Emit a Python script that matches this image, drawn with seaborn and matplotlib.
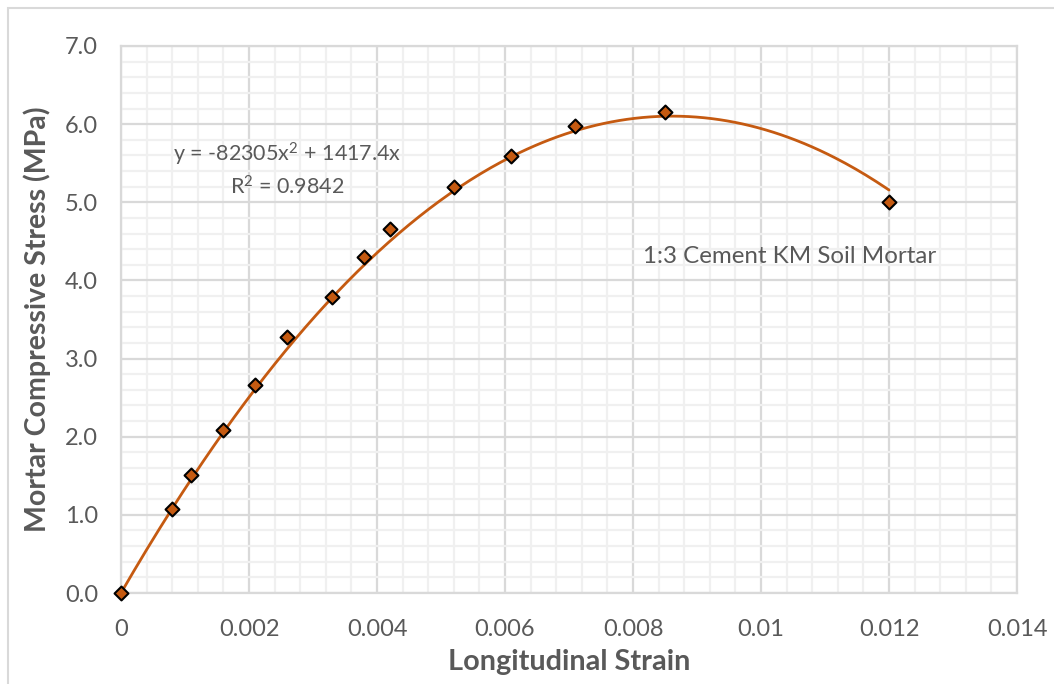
import numpy as np
import pandas as pd
import matplotlib
matplotlib.use("Agg")
import matplotlib.pyplot as plt
from matplotlib.ticker import MultipleLocator
from matplotlib.patches import Rectangle
import seaborn as sns

# ---- data ----
strain = [0.0, 0.0008, 0.0011, 0.0016, 0.0021, 0.0026, 0.0033, 0.0038, 0.0042,
          0.0052, 0.0061, 0.0071, 0.0085, 0.0120]
stress = [0.0, 1.07, 1.51, 2.08, 2.66, 3.27, 3.79, 4.30, 4.66,
          5.19, 5.59, 5.97, 6.16, 5.00]
trend_a = -82305.0   # x^2 coefficient of the displayed trendline
trend_b = 1417.4     # x coefficient
r_squared = 0.9842
x_ticks = [0, 0.002, 0.004, 0.006, 0.008, 0.01, 0.012, 0.014]
x_tick_labels = ["0", "0.002", "0.004", "0.006", "0.008", "0.01", "0.012", "0.014"]
y_ticks = [0.0, 1.0, 2.0, 3.0, 4.0, 5.0, 6.0, 7.0]
y_tick_labels = ["0.0", "1.0", "2.0", "3.0", "4.0", "5.0", "6.0", "7.0"]
series_label = "1:3 Cement KM Soil Mortar"

sns.set_theme(style="white")
plt.rcParams['font.family'] = ['Lato', 'DejaVu Sans']
plt.rcParams['mathtext.fontset'] = 'custom'
plt.rcParams['mathtext.rm'] = 'Lato'
plt.rcParams['mathtext.it'] = 'Lato'
plt.rcParams['mathtext.bf'] = 'Lato:bold'

TXT = "#595959"
ORANGE = "#C55A11"

fig = plt.figure(figsize=(10.54, 6.84), dpi=100)
ax = fig.add_axes([121/1054, 1 - 593/684, (1017-121)/1054, (593-46)/684])

df = pd.DataFrame({"strain": strain, "stress": stress})
xs = np.linspace(0, max(strain), 300)
trend = pd.DataFrame({"x": xs, "y": trend_a * xs**2 + trend_b * xs})

sns.lineplot(data=trend, x="x", y="y", ax=ax, color=ORANGE, linewidth=2.0, zorder=3)
sns.scatterplot(data=df, x="strain", y="stress", ax=ax, marker="D", s=50,
                color=ORANGE, edgecolor="black", linewidth=1.5, zorder=4, clip_on=False)

ax.set_xlim(0, 0.014)
ax.set_ylim(0, 7.0)
ax.set_xticks(x_ticks)
ax.set_xticklabels(x_tick_labels)
ax.set_yticks(y_ticks)
ax.set_yticklabels(y_tick_labels)
ax.xaxis.set_minor_locator(MultipleLocator(0.0004))
ax.yaxis.set_minor_locator(MultipleLocator(0.2))
ax.grid(which="minor", color="#f0f0f0", linewidth=1.6, zorder=0)
ax.grid(which="major", color="#d9d9d9", linewidth=1.6, zorder=1)
ax.set_axisbelow(True)
for s in ax.spines.values():
    s.set_color("#d9d9d9")
    s.set_linewidth(1.6)
ax.tick_params(axis="both", which="both", length=0, labelsize=17, colors=TXT)
ax.tick_params(axis="x", pad=19)
ax.tick_params(axis="y", pad=16.5)

ax.set_xlabel("Longitudinal Strain", fontsize=20.8, fontweight="bold", color=TXT, labelpad=6)
ax.set_ylabel("Mortar Compressive Stress (MPa)", fontsize=20.5, fontweight="bold", color=TXT, labelpad=10)

ax.text(0.0026, 5.42, f"y = {trend_a:.0f}x$^{{2}}$ + {trend_b}x\nR$^{{2}}$ = {r_squared}",
        ha="center", va="center", fontsize=15.5, color=TXT, multialignment="center",
        linespacing=1.4)
ax.text(0.01044, 4.31, series_label, ha="center", va="center", fontsize=17.4, color=TXT)

fig.patches.append(Rectangle((8/1054, -0.01), 1.5, 1 - 8/684 + 0.01, transform=fig.transFigure,
                             fill=False, edgecolor="#d9d9d9", linewidth=1.5))

fig.savefig("out.png", dpi=100, facecolor="white")
